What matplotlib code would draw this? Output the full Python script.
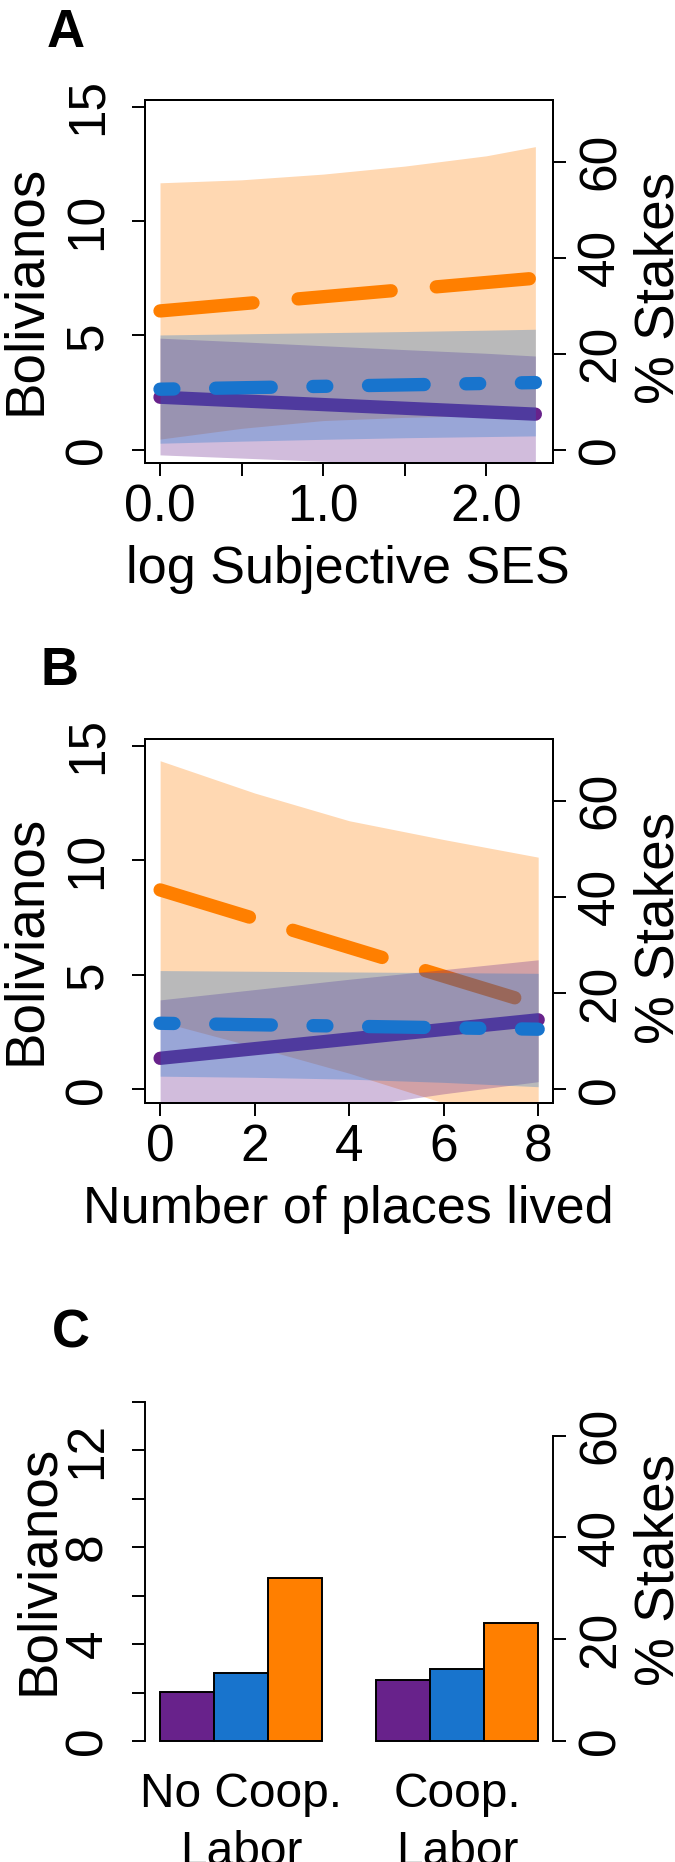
import numpy as np
import matplotlib
matplotlib.use('Agg')
import matplotlib.pyplot as plt

plt.rcParams['font.family'] = ['Liberation Sans', 'DejaVu Sans']

purple = '#68228B'
blue = '#1874CD'
orange = '#FF7F00'

# A: log Subjective SES (Bolivianos)
ses_x = [0.0, 0.5, 1.0, 1.5, 2.0, 2.3]
ses_orange_hi = [11.67, 11.8, 12.05, 12.4, 12.85, 13.25]
ses_orange_lo = [0.47, 0.94, 1.28, 1.42, 1.5, 1.55]
ses_purple_hi = [4.88, 4.72, 4.55, 4.38, 4.22, 4.1]
ses_purple_lo = [-0.22, -0.36, -0.5, -0.62, -0.74, -0.82]
ses_blue_hi = [5.02, 5.07, 5.12, 5.17, 5.23, 5.27]
ses_blue_lo = [0.29, 0.38, 0.46, 0.53, 0.58, 0.61]
ses_ends = [0.0, 2.3]
ses_orange = [6.07, 7.50]
ses_purple = [2.30, 1.56]
ses_blue = [2.65, 2.94]

# B: Number of places lived
places_x = [0, 2, 4, 6, 8]
places_orange_hi = [14.34, 12.93, 11.72, 10.9, 10.13]
places_orange_lo = [2.95, 1.85, 0.7, -0.6, -1.6]
places_purple_hi = [3.9, 4.35, 4.8, 5.22, 5.65]
places_purple_lo = [-1.8, -1.3, -0.8, -0.2, 0.33]
places_blue_hi = [5.18, 5.15, 5.12, 5.09, 5.06]
places_blue_lo = [0.57, 0.52, 0.44, 0.3, 0.11]
places_ends = [0, 8]
places_orange = [8.70, 3.68]
places_purple = [1.35, 3.03]
places_blue = [2.88, 2.62]

# C: cooperative labor
labor_groups = ['No Coop.\nLabor', 'Coop.\nLabor']
labor_purple = [2.01, 2.52]
labor_blue = [2.79, 2.97]
labor_orange = [6.71, 4.86]

stake = 21  # Bs in a full stake, for the % axis

W, H = 675, 1862
fig = plt.figure(figsize=(W / 100, H / 100), dpi=100)


def rect(top, bottom, left=145, right=553.3):
    return [left / W, 1 - bottom / H, (right - left) / W, (bottom - top) / H]


def ftext(x, y, s, **kw):
    fig.text(x / W, 1 - y / H, s, **kw)


tick_kw = dict(length=9.6, width=1.4)
LW = 9.6
styles = {orange: (0, (7.0, 3.4)), purple: '-', blue: (0, (1.04, 3.13, 4.17, 3.13))}


def add_stakes_axis(ax, ylim, yticks, ylabels):
    ax.set_ylim(*ylim)
    ax.set_yticks(yticks, ylabels, rotation=90, va='center', fontsize=37)
    ax.tick_params(axis='y', pad=13.8, **tick_kw)
    ax2 = ax.twinx()
    ax2.set_ylim(ylim[0] * 100 / stake, ylim[1] * 100 / stake)
    ax2.set_yticks([0, 20, 40, 60], ['0', '20', '40', '60'], rotation=90, va='center', fontsize=37)
    ax2.tick_params(axis='y', pad=7.2, **tick_kw)
    for sp in list(ax.spines.values()) + list(ax2.spines.values()):
        sp.set_linewidth(1.4)
    return ax2


def ci_panel(top, bottom, x, bands, ends, lines, xlim, xticks, xticklabels):
    ax = fig.add_axes(rect(top, bottom))
    z = 1
    for color, (lo, hi), y in zip([orange, purple, blue], bands, lines):
        ax.fill_between(x, lo, hi, color=color, alpha=0.3, lw=0, zorder=z)
        ax.plot(ends, y, color=color, lw=LW, ls=styles[color],
                solid_capstyle='round', dash_capstyle='round', zorder=z + 1)
        z += 2
    ax.set_xlim(*xlim)
    ax.set_xticks(xticks, xticklabels, fontsize=37)
    ax.tick_params(axis='x', pad=5.3, **tick_kw)
    add_stakes_axis(ax, (-0.588, 15.288), [0, 5, 10, 15], ['0', '5', '10', '15'])
    return ax


ci_panel(100, 463.3, ses_x,
         [(ses_orange_lo, ses_orange_hi), (ses_purple_lo, ses_purple_hi), (ses_blue_lo, ses_blue_hi)],
         ses_ends, [ses_orange, ses_purple, ses_blue],
         (-0.092, 2.41), [0, 0.5, 1, 1.5, 2], ['0.0', '', '1.0', '', '2.0'])

ci_panel(739, 1102.7, places_x,
         [(places_orange_lo, places_orange_hi), (places_purple_lo, places_purple_hi),
          (places_blue_lo, places_blue_hi)],
         places_ends, [places_orange, places_purple, places_blue],
         (-0.32, 8.32), [0, 2, 4, 6, 8], ['0', '2', '4', '6', '8'])

# bar panel
axc = fig.add_axes(rect(1388, 1754.6))
first = np.arange(len(labor_groups)) * 4 + 1
for i, (vals, color) in enumerate(zip([labor_purple, labor_blue, labor_orange], [purple, blue, orange])):
    axc.bar(first + i, vals, width=1, align='edge', color=color, edgecolor='black', lw=1.4)
axc.set_xlim(0.72, 8.28)
axc.set_xticks(first + 1.5, labor_groups, fontsize=34.5, linespacing=1.36)
axc.tick_params(axis='x', length=0, pad=12.5)
ax2c = add_stakes_axis(axc, (-0.561, 14.56), list(range(0, 15, 2)),
                       ['0', '', '4', '', '8', '', '12', ''])
axc.spines[['top', 'right', 'bottom']].set_visible(False)
axc.spines['left'].set_bounds(0, 14)
ax2c.spines[['top', 'left', 'bottom']].set_visible(False)
ax2c.spines['right'].set_bounds(0, 60)

# panel letters and axis titles
for letter, x, y in [('A', 47, 47), ('B', 41, 685), ('C', 51.5, 1348)]:
    ftext(x, y, letter, fontsize=38, fontweight='bold')

lab_kw = dict(rotation=90, rotation_mode='anchor', ha='center', va='baseline', fontsize=39.5)
for xl, yl, yr in [(40, 290, 288), (40, 940, 928), (53.3, 1570, 1570)]:
    ftext(xl, yl, 'Bolivianos', **lab_kw)
    ftext(673, yr, '% Stakes', **lab_kw)

ftext(348, 583.3, 'log Subjective SES', ha='center', fontsize=37.5)
ftext(348.5, 1223.3, 'Number of places lived', ha='center', fontsize=37.5)

fig.savefig('out.png', dpi=100)
